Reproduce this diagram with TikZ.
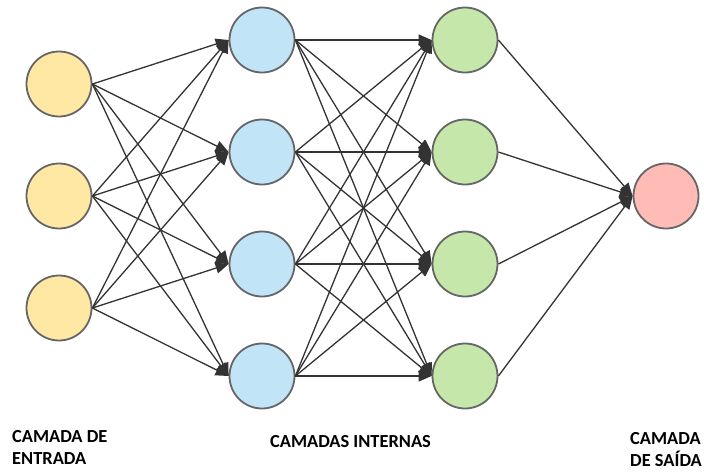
\documentclass[tikz,border=0pt]{standalone}
\usepackage{fontspec}
\setmainfont{Carlito}
\usetikzlibrary{arrows.meta}
\definecolor{amarelo}{HTML}{FFE8A3}
\definecolor{azul}{HTML}{C1E4F6}
\definecolor{verde}{HTML}{C6E7AA}
\definecolor{rosa}{HTML}{FFBBB6}

\begin{document}
\begin{tikzpicture}[x=1pt,y=-1pt,
          neuron/.style={circle,draw=black!60,line width=1.8pt,minimum size=65pt,inner sep=0pt},
          rotulo/.style={inner sep=0pt,align=left,font=\bfseries\fontsize{18.4}{22.5}\selectfont},
          link/.style={->,draw=black!80,line width=1.3pt},
          >={Triangle[length=13pt,width=11pt]}]
          \useasboundingbox(0,0)rectangle(704,472);
          \foreach \n/\y in {1/84,2/196,3/308}
            \node[neuron,fill=amarelo](e\n) at (59,\y){};
          \foreach \n/\y in {1/40,2/152,3/264,4/376}{
            \node[neuron,fill=azul](a\n) at (262,\y){};
            \node[neuron,fill=verde](b\n) at (465,\y){};}
          \node[neuron,fill=rosa](s) at (666,196){};
          \foreach \i in {1,2,3}
            \foreach \j in {1,...,4}
              \draw[link](e\i.east)--(a\j.west);
          \foreach \i in {1,...,4}{
            \foreach \j in {1,...,4}
              \draw[link](a\i.east)--(b\j.west);
            \draw[link](b\i.east)--(s.west);}
          \node[rotulo,anchor=north west](ent) at (12,430){CAMADA DE\\ENTRADA};
          \node[rotulo,anchor=north](int) at (350.5,435){CAMADAS INTERNAS};
          \node[rotulo,anchor=north east](sai) at (702,432){CAMADA\\DE SAÍDA};
        \end{tikzpicture}
\end{document}
